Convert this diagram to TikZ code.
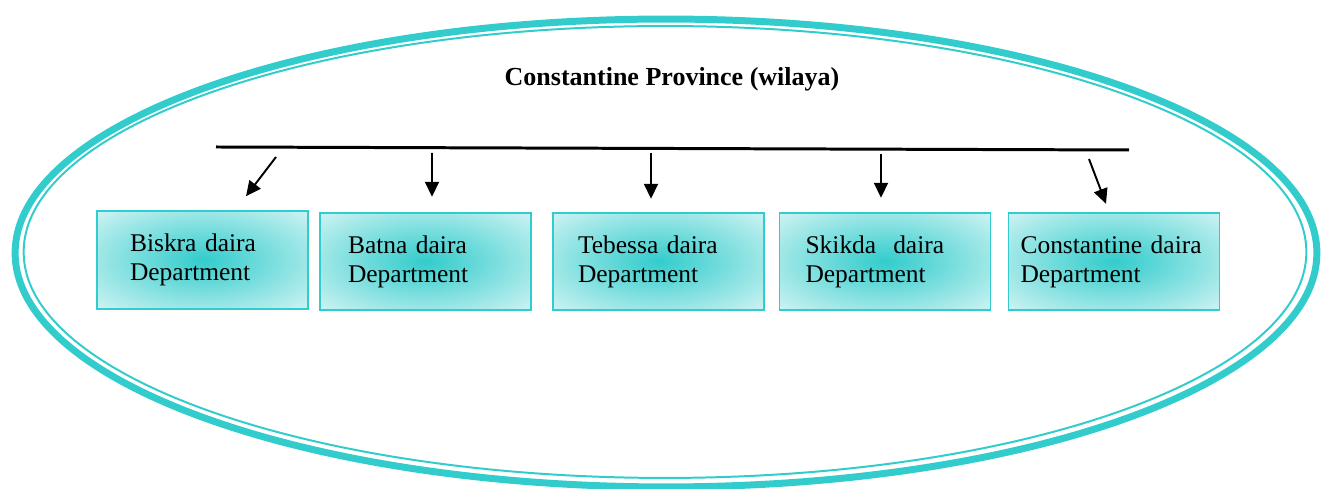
\documentclass[tikz,border=0pt]{standalone}
\usepackage{fontspec}
\setmainfont{Liberation Serif}
\usepackage{tikz}
\usetikzlibrary{arrows.meta,calc}
\definecolor{wilayateal}{HTML}{33CCCC}
\pgfdeclareradialshading{deptglow}{\pgfpoint{0bp}{0bp}}{color(0bp)=(wilayateal); color(12bp)=(wilayateal!75); color(38bp)=(wilayateal!18); color(50bp)=(wilayateal!18)}

\begin{document}
\begin{tikzpicture}[x=0.02cm, y=0.02cm,
    dept/.style={draw=wilayateal, line width=1.1pt, shade, shading=deptglow,
        minimum width=4.22cm, minimum height=1.95cm, align=left, font=\fontsize{14.5}{16.5}\selectfont},
    down/.style={-{Triangle[length=0.3cm, width=0.28cm]}, line width=1.1pt}]
    \useasboundingbox (0,0) rectangle (1323,489);

    % Province border
    \draw[wilayateal, line width=3.97pt] (666,236) ellipse [x radius=13.02cm, y radius=4.68cm];
    \draw[wilayateal, line width=1.13pt] (665,237) ellipse [x radius=12.83cm, y radius=4.52cm];

    % Title
    \node[font=\fontsize{14.8}{17}\selectfont\bfseries] (title) at (672,410) {Constantine Province (wilaya)};

    % Bar
    \coordinate (barL) at (216,342);
    \coordinate (barR) at (1129,339);
    \draw[line width=1.7pt] (barL) -- (barR);

    % Departments
    \node[dept, inner xsep=0.66cm, text width=2.9cm] (biskra) at (202.5,229) {Biskra daira\\Department};
    \node[dept, inner xsep=0.56cm, text width=3.1cm] (batna) at (425.5,227.5) {Batna daira\\Department};
    \node[dept, inner xsep=0.5cm, text width=3.22cm] (tebessa) at (658.5,227.5) {Tebessa daira\\Department};
    \node[dept, inner xsep=0.52cm, text width=3.18cm] (skikda) at (885,227.5) {Skikda\ \ daira\\Department};
    \node[dept, inner xsep=0.24cm, text width=3.74cm] (constantine) at (1114,227.5) {Constantine daira\\Department};

    % Arrows
    \coordinate (a1) at (276,332);
    \coordinate (a2) at (432,336);
    \coordinate (a3) at (651,336);
    \coordinate (a4) at (881,335);
    \coordinate (a5) at (1089,330);
    \draw[down] (a1) -- ($(biskra.north)+(43.5,14)$);
    \draw[down] (a2) -- ($(batna.north)+(6.5,15)$);
    \draw[down] (a3) -- ($(tebessa.north)+(-7.5,13)$);
    \draw[down] (a4) -- ($(skikda.north)+(-4,14)$);
    \draw[down] (a5) -- ($(constantine.north)+(-8,8)$);
\end{tikzpicture}
\end{document}
